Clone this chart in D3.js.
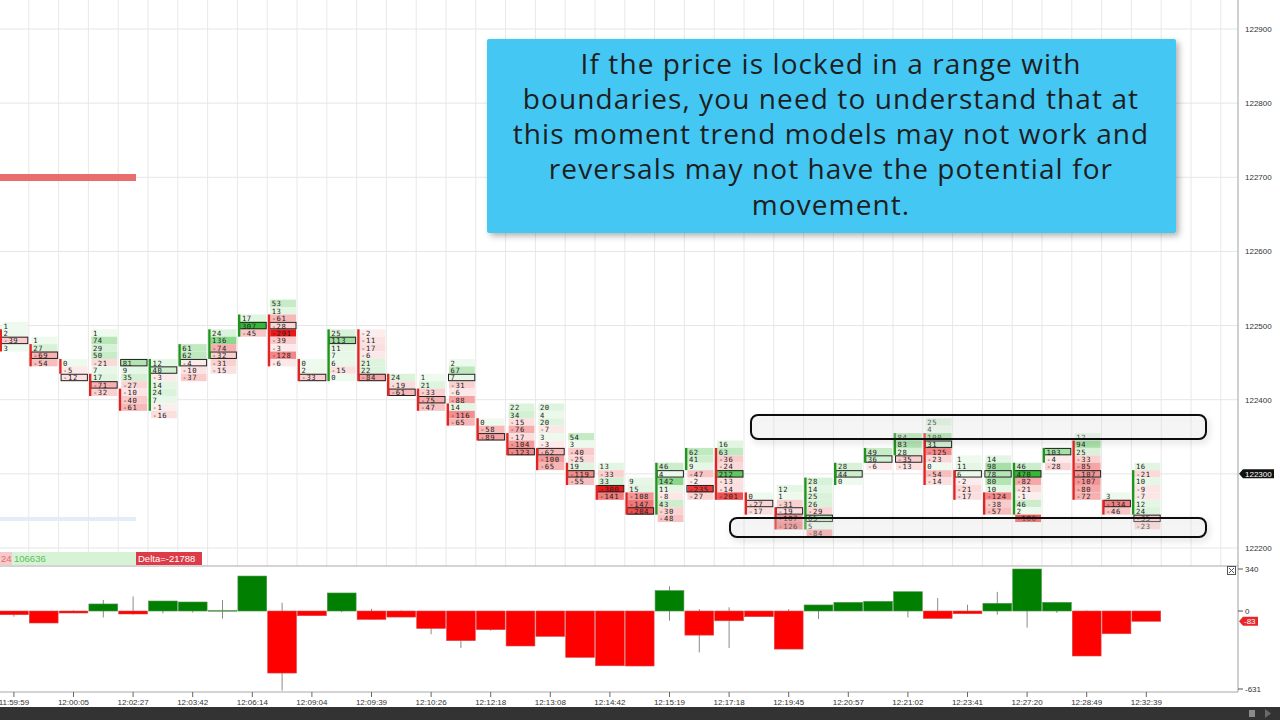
<!DOCTYPE html>
<html>
<head>
<meta charset="utf-8">
<script src="https://cdn.jsdelivr.net/npm/d3@7"></script>
<style>
  body { margin: 0; background: #fff; overflow: hidden; }
  svg { display: block; }
</style>
</head>
<body>
<script>
// time labels under every second bar
const timeLabels = ["11:59:59", "12:00:05", "12:02:27", "12:03:42", "12:06:14", "12:09:04", "12:09:39",
  "12:10:26", "12:12:18", "12:13:08", "12:14:42", "12:15:19", "12:17:18", "12:19:45", "12:20:57",
  "12:21:02", "12:23:41", "12:27:20", "12:28:49", "12:32:39"];

// price of the top row of each footprint bar
const barTop = [122500, 122480, 122450, 122490, 122450, 122450, 122470, 122490, 122510, 122530,
  122450, 122490, 122490, 122430, 122430, 122450, 122370, 122390, 122390, 122350,
  122310, 122290, 122310, 122330, 122340, 122270, 122280, 122290, 122310, 122330,
  122350, 122370, 122320, 122320, 122310, 122330, 122350, 122270, 122310];

// delta per price level, top row first
const barCells = [
  [1, 2, -39, 3],
  [1, 27, -69, -54],
  [0, -5, -12],
  [1, 74, 29, 50, -21, 7, 17, -71, -32],
  [81, 9, 35, -27, -10, -40, -61],
  [12, 40, -3, 14, 24, 7, -1, -16],
  [61, 62, -4, -10, -37],
  [24, 136, -74, -32, -31, -15],
  [17, 307, -45],
  [53, 13, -61, -28, -291, -39, -3, -128, -6],
  [0, 2, -33],
  [25, 113, 11, 7, 6, -15, 0],
  [-2, -11, -17, -6, 21, 22, -84],
  [24, -19, -61],
  [1, 21, -33, -75, -47],
  [2, 67, 7, -31, -6, -88, 14, -116, -65],
  [0, -58, -89],
  [22, 34, -15, -76, -17, -104, -123],
  [20, 4, 20, -7, 3, -3, -62, -100, -65],
  [54, 3, -40, -25, 19, -119, -55],
  [13, -33, 33, -300, -141],
  [9, 15, -108, -147, -204],
  [46, 4, 142, 11, -8, 43, -30, -48],
  [62, 41, 9, -47, -2, -235, -27],
  [16, 63, -36, -24, 212, -13, -14, -201],
  [0, -27, -17],
  [12, 1, -31, -19, -107, -126],
  [28, 14, 25, 26, -29, 65, 5, -84],
  [28, 44, 0],
  [49, 36, -6],
  [84, 83, 28, -35, -13],
  [25, 4, 100, 31, -125, -23, 0, -54, -14],
  [1, 11, 6, -2, -21, -17],
  [14, 98, 78, 80, 10, -124, -38, -57],
  [46, 470, -82, -21, -1, 46, 2, -186],
  [103, -4, -28],
  [12, 94, 25, -33, -85, -107, -107, -80, -72],
  [3, -134, -46],
  [16, -21, 10, -9, -7, 12, 24, -35, -23]
];

// boxed (max volume) row of each bar
const barPoc = [2, 2, 2, 7, 0, 1, 2, 3, 1, 3, 2, 1, 6, 2, 3, 2, 2, 6, 6, 5,
  3, 4, 1, 5, 4, 1, 3, 5, 1, 1, 3, 3, 2, 2, 1, 0, 5, 1, 7];

// candle body as [first row, last row], and direction (1 up / -1 down)
const barBody = [[1, 3], [1, 3], [0, 1], [6, 8], [4, 6], [0, 6], [0, 2], [0, 3], [0, 2], [2, 8],
  [0, 2], [0, 6], [0, 6], [0, 2], [2, 4], [6, 8], [0, 2], [4, 6], [6, 8], [4, 6],
  [3, 4], [2, 4], [0, 6], [0, 2], [1, 7], [0, 2], [3, 5], [0, 6], [0, 2], [0, 1],
  [0, 2], [2, 8], [2, 5], [5, 7], [0, 6], [0, 1], [1, 8], [1, 2], [1, 6]];
const barDir = [-1, -1, -1, -1, -1, 1, 1, 1, 1, -1, -1, 1, -1, -1, -1, -1, -1, -1, -1, -1,
  -1, -1, 1, 1, -1, -1, -1, 1, 1, 1, 1, -1, -1, -1, 1, 1, -1, -1, 1];

// delta histogram
const barDelta = [-30, -97, -16, 57, -24, 81, 73, 6, 283, -502, -38, 146, -68, -49, -141, -240, -151, -283, -205, -375,
  -443, -445, 165, -195, -79, -46, -308, 49, 70, 78, 156, -60, -22, 62, 340, 70, -364, -184, -83];
const deltaHigh = [0, 0, 5, 89, 118, 81, 73, 89, 283, 67, 0, 146, 18, 5, 0, 0, 0, 0, 0, 0,
  0, 0, 200, 15, 30, 0, 15, 49, 70, 78, 156, 105, 51, 155, 340, 70, 5, 0, 0];
const deltaLow = [-46, -97, -16, -52, -30, -19, -12, -62, 0, -644, -38, -10, -68, -49, -188, -300, -159, -283, -205, -375,
  -443, -445, -78, -335, -300, -46, -308, -65, 0, 0, -52, -60, -22, -30, -135, -15, -364, -184, -83];

const priceTicks = [122900, 122800, 122700, 122600, 122500, 122400, 122300, 122200];
const lastPrice = 122300;
const deltaTicks = [340, 0, -631];
const lastDelta = -83;

const calloutLines = ["If the price is locked in a range with",
  "boundaries, you need to understand that at",
  "this moment trend models may not work and",
  "reversals may not have the potential for",
  "movement."];

const width = 1280, height = 720,
  axisX = 1238,        // right price axis line
  sepY = 566,          // price panel / delta panel border
  baseY = 692;         // time axis line

const svg = d3.select("body").append("svg")
  .attr("width", width)
  .attr("height", height)
  .style("font-family", "'Liberation Sans', Arial, sans-serif");

const defs = svg.append("defs");
const sh = defs.append("filter").attr("id", "shadow").attr("x", "-5%").attr("y", "-10%").attr("width", "115%").attr("height", "130%");
sh.append("feDropShadow").attr("dx", 3).attr("dy", 3).attr("stdDeviation", 3).attr("flood-color", "#000").attr("flood-opacity", 0.3);
const sh2 = defs.append("filter").attr("id", "shadow2").attr("x", "-5%").attr("y", "-50%").attr("width", "115%").attr("height", "220%");
sh2.append("feDropShadow").attr("dx", 2).attr("dy", 3).attr("stdDeviation", 3).attr("flood-color", "#000").attr("flood-opacity", 0.18);

// scales
const x = d3.scaleLinear().domain([0, 39]).range([-1, 1161.2]);
const step = x(1) - x(0);
const y = d3.scaleLinear().domain([122200, 122900]).range([548, 29]);
const rowH = y(122200) - y(122210);
const yd = d3.scaleLinear().domain([-631, 340]).range([689, 569]);

// grid
const grid = svg.append("g");
grid.selectAll(".vg").data(d3.range(1, 42).filter(k => x(k) < axisX))
  .enter().append("line")
  .attr("x1", k => x(k)).attr("x2", k => x(k))
  .attr("y1", 0).attr("y2", sepY)
  .attr("stroke", "#e8e8e8").attr("stroke-width", 1);
grid.selectAll(".hg").data(priceTicks)
  .enter().append("line")
  .attr("x1", 0).attr("x2", axisX)
  .attr("y1", d => y(d)).attr("y2", d => y(d))
  .attr("stroke", "#e6e6e6").attr("stroke-width", 1);

// left side leftovers
svg.append("rect").attr("x", 0).attr("y", 174).attr("width", 136).attr("height", 7).attr("fill", "#e96d6d");
svg.append("rect").attr("x", 0).attr("y", 517).attr("width", 136).attr("height", 4).attr("fill", "#e4ecf8");

function cellColor(v) {
  const t = Math.pow(Math.min(1, Math.abs(v) / 280), 0.9);
  return v >= 0 ? d3.interpolateRgb("#effaef", "#36b836")(t) : d3.interpolateRgb("#fdefef", "#e81818")(t);
}

// footprint bars
const bars = svg.append("g").selectAll("g").data(barCells).enter().append("g");
bars.each(function(cells, i) {
  const g = d3.select(this);
  const left = x(i);
  const rows = cells.map((v, r) => ({ v: v, cy: y(barTop[i] - 10 * r) }));
  g.selectAll("rect.cell").data(rows).enter().append("rect")
    .attr("x", left + 3).attr("width", step - 4)
    .attr("y", d => d.cy - rowH / 2).attr("height", rowH)
    .attr("fill", d => cellColor(d.v));
  const poc = rows[barPoc[i]];
  g.append("rect")
    .attr("x", left + 2.5).attr("width", step - 3.5)
    .attr("y", poc.cy - rowH / 2 + 0.5).attr("height", rowH - 1)
    .attr("fill", "none").attr("stroke", "#222").attr("stroke-width", 1);
  g.selectAll("text").data(rows).enter().append("text")
    .attr("x", left + 4.5).attr("y", d => d.cy + 3)
    .attr("font-family", "'DejaVu Sans Mono', monospace")
    .attr("font-size", 7.2)
    .attr("letter-spacing", 0.6)
    .attr("fill", "#222")
    .text(d => d.v);
  const b = barBody[i];
  g.append("line")
    .attr("x1", left + 1.8).attr("x2", left + 1.8)
    .attr("y1", y(barTop[i] - 10 * b[0]) - rowH / 2)
    .attr("y2", y(barTop[i] - 10 * b[1]) + rowH / 2)
    .attr("stroke", barDir[i] > 0 ? "#1f951f" : "#e02424")
    .attr("stroke-width", 2.4);
});

// range boxes
svg.append("rect").attr("x", 751).attr("y", 415).attr("width", 455).attr("height", 24).attr("rx", 7)
  .attr("fill", "rgba(235,235,235,0.25)").attr("stroke", "#111").attr("stroke-width", 2).attr("filter", "url(#shadow2)");
svg.append("rect").attr("x", 730).attr("y", 518).attr("width", 476).attr("height", 19).attr("rx", 7)
  .attr("fill", "rgba(235,235,235,0.25)").attr("stroke", "#111").attr("stroke-width", 2).attr("filter", "url(#shadow2)");

// summary labels
svg.append("rect").attr("x", 0).attr("y", 552).attr("width", 12).attr("height", 13).attr("fill", "#f6caca");
svg.append("rect").attr("x", 12).attr("y", 552).attr("width", 124).attr("height", 13).attr("fill", "#d6f3d6");
svg.append("rect").attr("x", 136).attr("y", 552).attr("width", 66).attr("height", 13).attr("fill", "#dc3b47");
svg.append("text").attr("x", 1).attr("y", 562).attr("font-size", 9.5).attr("fill", "#e06b6b").text("24");
svg.append("text").attr("x", 14).attr("y", 562).attr("font-size", 9.5).attr("fill", "#5cbd5c").text("106636");
svg.append("text").attr("x", 138).attr("y", 562).attr("font-size", 9.5).attr("fill", "#fff").text("Delta=-21788");

// panel borders
svg.append("line").attr("x1", 0).attr("x2", axisX).attr("y1", sepY).attr("y2", sepY).attr("stroke", "#a8a8a8");
svg.append("line").attr("x1", 0).attr("x2", axisX).attr("y1", baseY).attr("y2", baseY).attr("stroke", "#a8a8a8");
svg.append("line").attr("x1", axisX).attr("x2", axisX).attr("y1", 0).attr("y2", baseY).attr("stroke", "#a0a0a0");

// delta histogram
const hist = svg.append("g");
hist.selectAll("line.wick").data(barDelta).enter().append("line")
  .attr("x1", (d, i) => x(i) + step / 2).attr("x2", (d, i) => x(i) + step / 2)
  .attr("y1", (d, i) => yd(deltaHigh[i])).attr("y2", (d, i) => yd(deltaLow[i]))
  .attr("stroke", "#8a8a8a").attr("stroke-width", 1);
hist.selectAll("rect").data(barDelta).enter().append("rect")
  .attr("x", (d, i) => x(i) + 0.5).attr("width", step - 1)
  .attr("y", d => yd(Math.max(0, d)))
  .attr("height", d => Math.max(1, Math.abs(yd(d) - yd(0))))
  .attr("fill", d => Math.abs(d) < 10 ? "#999" : d > 0 ? "#007f00" : "#ff0000")
  .attr("stroke", d => d > 0 ? "#4c944c" : "#d84a4a").attr("stroke-width", 0.6);

// right price axis
const axisG = svg.append("g");
axisG.selectAll("text").data(priceTicks.filter(p => p !== lastPrice)).enter().append("text")
  .attr("x", 1245).attr("y", d => y(d) + 3)
  .attr("font-size", 8).attr("fill", "#333").text(d => d);
const ly = y(lastPrice);
axisG.append("path")
  .attr("d", `M${axisX + 1},${ly} L${axisX + 5},${ly - 4.5} H1274 V${ly + 4.5} H${axisX + 5} Z`)
  .attr("fill", "#111");
axisG.append("text").attr("x", 1245).attr("y", ly + 3).attr("font-size", 8).attr("fill", "#fff").text(lastPrice);

// delta axis
const dAxis = svg.append("g");
dAxis.selectAll("line").data(deltaTicks).enter().append("line")
  .attr("x1", axisX).attr("x2", axisX + 5).attr("y1", d => yd(d)).attr("y2", d => yd(d)).attr("stroke", "#555");
dAxis.selectAll("text").data(deltaTicks).enter().append("text")
  .attr("x", 1245).attr("y", d => yd(d) + 3).attr("font-size", 8).attr("fill", "#333").text(d => d);
const dy0 = yd(lastDelta);
dAxis.append("path")
  .attr("d", `M${axisX + 1},${dy0} L${axisX + 5},${dy0 - 4.5} H1258 V${dy0 + 4.5} H${axisX + 5} Z`)
  .attr("fill", "#e8262a");
dAxis.append("text").attr("x", 1244).attr("y", dy0 + 3).attr("font-size", 8).attr("fill", "#fff").text(lastDelta);

// close box
svg.append("rect").attr("x", 1227.5).attr("y", 566.5).attr("width", 8).attr("height", 8).attr("fill", "#fff").attr("stroke", "#555");
svg.append("path").attr("d", "M1229,568 L1234,573 M1234,568 L1229,573").attr("stroke", "#555");

// time axis
const tAxis = svg.append("g");
tAxis.selectAll("line").data(timeLabels).enter().append("line")
  .attr("x1", (d, k) => x(2 * k) + step / 2).attr("x2", (d, k) => x(2 * k) + step / 2)
  .attr("y1", baseY).attr("y2", baseY + 5).attr("stroke", "#666");
tAxis.selectAll("text").data(timeLabels).enter().append("text")
  .attr("x", (d, k) => x(2 * k) + step / 2).attr("y", 704.5)
  .attr("text-anchor", "middle").attr("font-size", 8).attr("fill", "#333").text(d => d);

// bottom strip
svg.append("rect").attr("x", 0).attr("y", 707).attr("width", width).attr("height", 13).attr("fill", "#333");
svg.append("rect").attr("x", 1249).attr("y", 710).attr("width", 6).attr("height", 7).attr("fill", "#8a8a8a");
svg.append("path").attr("d", "M1265,709 L1271,713.5 L1265,718 Z").attr("fill", "#6a6a6a");

// callout
svg.append("rect").attr("x", 487).attr("y", 39).attr("width", 689).attr("height", 194).attr("rx", 2)
  .attr("fill", "#45c7f4").attr("filter", "url(#shadow)");
svg.append("g").selectAll("text").data(calloutLines).enter().append("text")
  .attr("x", 831).attr("y", (d, k) => 73.5 + k * 35.3)
  .attr("text-anchor", "middle")
  .attr("font-family", "'Open Sans', sans-serif")
  .attr("font-size", 28)
  .attr("letter-spacing", 1.1)
  .attr("fill", "#1e1e1e")
  .text(d => d);
</script>
</body>
</html>
